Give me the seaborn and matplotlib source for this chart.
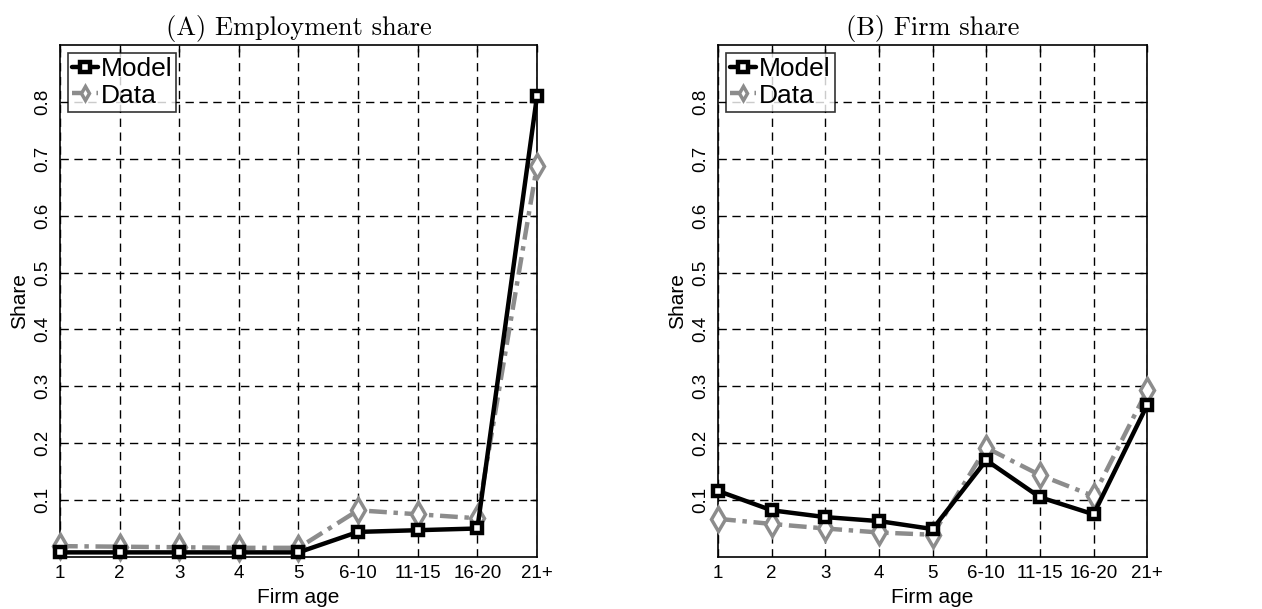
import numpy as np
import matplotlib
matplotlib.use("Agg")
import matplotlib.pyplot as plt
import seaborn as sns

age_labels = ['1', '2', '3', '4', '5', '6-10', '11-15', '16-20', '21+']

emp_model = [0.008, 0.008, 0.008, 0.008, 0.008, 0.044, 0.047, 0.050, 0.81]
emp_data = [0.019, 0.018, 0.017, 0.016, 0.016, 0.082, 0.075, 0.068, 0.688]

firm_model = [0.116, 0.082, 0.070, 0.063, 0.049, 0.170, 0.105, 0.075, 0.267]
firm_data = [0.067, 0.058, 0.050, 0.043, 0.039, 0.192, 0.144, 0.107, 0.293]

titles = ['(A) Employment share', '(B) Firm share']
y_ticks = [0.1, 0.2, 0.3, 0.4, 0.5, 0.6, 0.7, 0.8]

sns.set_style("white")
plt.rcParams['font.family'] = ['Liberation Sans', 'DejaVu Sans']
plt.rcParams['text.color'] = 'black'
plt.rcParams['axes.labelcolor'] = 'black'
plt.rcParams['xtick.color'] = 'black'
plt.rcParams['ytick.color'] = 'black'

fig = plt.figure(figsize=(12.62, 6.09), dpi=100)
positions = [[0.0475, 0.0855, 0.378, 0.8405],
             [0.569, 0.0855, 0.340, 0.8405]]

x = np.arange(1, len(age_labels) + 1)

for pos, title, model, data in zip(positions, titles,
                                   [emp_model, firm_model],
                                   [emp_data, firm_data]):
    ax = fig.add_axes(pos)
    sns.lineplot(x=x, y=data, ax=ax, color='#8c8c8c', lw=3.2,
                 marker='d', markersize=12, markerfacecolor='white',
                 markeredgecolor='#8c8c8c', markeredgewidth=2.5,
                 dashes=[(4, 1.5, 1, 1.5)], style=[0] * len(x), legend=False,
                 zorder=3, clip_on=False)
    sns.lineplot(x=x, y=model, ax=ax, color='black', lw=3.2,
                 marker='s', markersize=7, markerfacecolor='white',
                 markeredgecolor='black', markeredgewidth=3.2,
                 legend=False, zorder=4, clip_on=False)
    data_line, model_line = ax.lines[0], ax.lines[1]

    ax.set_xlim(1, 9)
    ax.set_ylim(0, 0.9)
    ax.set_xticks(x)
    ax.set_xticklabels(age_labels, fontsize=13.5)
    ax.set_yticks(y_ticks)
    ax.set_yticklabels([f'{v:.1f}' for v in y_ticks], fontsize=13.5,
                       rotation=90, va='center')
    ax.tick_params(direction='in', length=5, width=1, top=True, right=True,
                   color='black', pad=6)
    ax.grid(True, color='black', linestyle=(0, (6, 4)), linewidth=1)
    for sp in ax.spines.values():
        sp.set_color('black')
        sp.set_linewidth(1.2)

    ax.set_xlabel('Firm age', fontsize=15, labelpad=4)
    ax.set_ylabel('Share', fontsize=15, labelpad=4)
    ax.set_title(title, fontsize=19, family='cmr10', pad=7)

    leg = ax.legend([model_line, data_line], ['Model', 'Data'], loc='upper left',
                    fontsize=19, frameon=True, fancybox=False,
                    borderpad=0.15, handlelength=1.0, handletextpad=0.1,
                    labelspacing=0.1, borderaxespad=0.3)
    leg.get_frame().set_edgecolor('black')
    leg.get_frame().set_linewidth(1.2)
    for h in leg.get_lines():
        h.set_markersize(7)

fig.savefig('out.png', dpi=100)
